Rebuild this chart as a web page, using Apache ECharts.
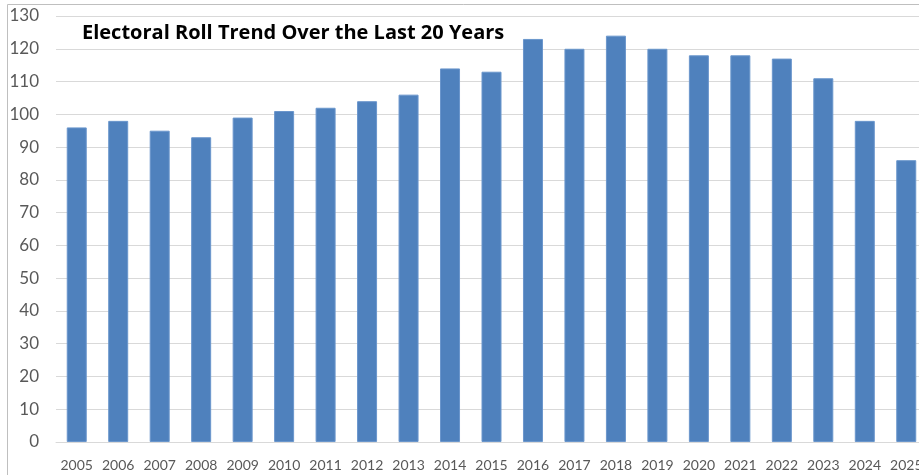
<!DOCTYPE html>
<html>
<head>
<meta charset="utf-8">
<script src="https://cdn.jsdelivr.net/npm/echarts@6/dist/echarts.min.js"></script>
<style>
  html, body { margin: 0; padding: 0; background: #fff; }
  #chart { width: 919px; height: 475px; }
</style>
</head>
<body>
<div id="chart"></div>
<script>
const years = ['2005', '2006', '2007', '2008', '2009', '2010', '2011', '2012', '2013', '2014', '2015',
    '2016', '2017', '2018', '2019', '2020', '2021', '2022', '2023', '2024', '2025'];
const rollValues = [96, 98, 95, 93, 99, 101, 102, 104, 106, 114, 113, 123, 120, 124, 120, 118, 118, 117, 111, 98, 86];
const chartTitle = 'Electoral Roll Trend Over the Last 20 Years';

const myChart = echarts.init(document.getElementById('chart'));

const option = {
    backgroundColor: '#fff',
    animation: false,
    title: {
        text: chartTitle,
        left: 77,
        top: 18,
        textStyle: {
            fontFamily: 'Open Sans',
            fontWeight: 'bold',
            fontSize: 20,
            color: '#000'
        }
    },
    grid: {
        left: 56,
        top: 16,
        width: 871,
        bottom: 33,
        outerBoundsMode: 'none',
        containLabel: false
    },
    xAxis: {
        type: 'category',
        data: years,
        axisLine: { lineStyle: { color: '#d9d9d9' } },
        axisTick: { show: false },
        axisLabel: {
            color: '#595959',
            fontFamily: 'Lato',
            fontSize: 14,
            margin: 16,
            interval: 0
        }
    },
    yAxis: {
        type: 'value',
        min: 0,
        max: 130,
        interval: 10,
        axisLine: { show: false },
        axisTick: { show: false },
        splitLine: { lineStyle: { color: '#d9d9d9', width: 1 } },
        axisLabel: {
            color: '#595959',
            fontFamily: 'Lato',
            fontSize: 17,
            margin: 17
        }
    },
    series: [{
        type: 'bar',
        data: rollValues,
        barWidth: 20,
        itemStyle: {
            color: '#4f81bd',
            borderColor: '#6a96cc',
            borderWidth: 1
        }
    }],
    graphic: [{
        type: 'rect',
        shape: { x: 7.5, y: 4.5, width: 960, height: 520 },
        style: { fill: 'none', stroke: '#bfbfbf', lineWidth: 1 },
        silent: true
    }]
};

myChart.setOption(option);
</script>
</body>
</html>
